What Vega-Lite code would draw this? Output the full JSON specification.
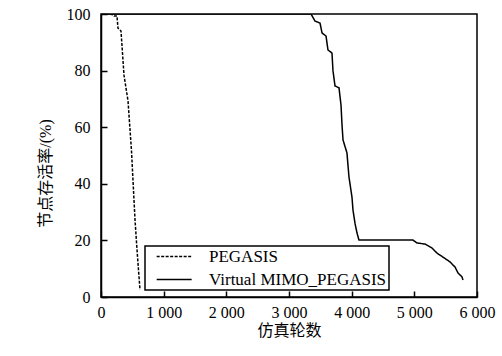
{
  "$schema": "https://vega.github.io/schema/vega-lite/v6.json",
  "width": 376,
  "height": 283,
  "autosize": {"type": "none"},
  "padding": {"left": 101, "top": 14, "right": 25, "bottom": 59},
  "background": "white",
  "data": {
    "values": [
      {"series": "PEGASIS", "i": 0, "x": 0, "y": 100},
      {"series": "PEGASIS", "i": 1, "x": 160, "y": 100},
      {"series": "PEGASIS", "i": 2, "x": 207, "y": 99.3},
      {"series": "PEGASIS", "i": 3, "x": 255, "y": 99.3},
      {"series": "PEGASIS", "i": 4, "x": 271, "y": 95},
      {"series": "PEGASIS", "i": 5, "x": 319, "y": 94},
      {"series": "PEGASIS", "i": 6, "x": 367, "y": 78.4},
      {"series": "PEGASIS", "i": 7, "x": 431, "y": 69.3},
      {"series": "PEGASIS", "i": 8, "x": 487, "y": 51.5},
      {"series": "PEGASIS", "i": 9, "x": 543, "y": 27.2},
      {"series": "PEGASIS", "i": 10, "x": 575, "y": 16.6},
      {"series": "PEGASIS", "i": 11, "x": 622, "y": 2.5},
      {"series": "Virtual MIMO_PEGASIS", "i": 0, "x": 0, "y": 100},
      {"series": "Virtual MIMO_PEGASIS", "i": 1, "x": 3351, "y": 100},
      {"series": "Virtual MIMO_PEGASIS", "i": 2, "x": 3415, "y": 97.5},
      {"series": "Virtual MIMO_PEGASIS", "i": 3, "x": 3495, "y": 96.8},
      {"series": "Virtual MIMO_PEGASIS", "i": 4, "x": 3527, "y": 93.3},
      {"series": "Virtual MIMO_PEGASIS", "i": 5, "x": 3591, "y": 92.2},
      {"series": "Virtual MIMO_PEGASIS", "i": 6, "x": 3622, "y": 87.3},
      {"series": "Virtual MIMO_PEGASIS", "i": 7, "x": 3686, "y": 86.2},
      {"series": "Virtual MIMO_PEGASIS", "i": 8, "x": 3702, "y": 79.9},
      {"series": "Virtual MIMO_PEGASIS", "i": 9, "x": 3734, "y": 74.6},
      {"series": "Virtual MIMO_PEGASIS", "i": 10, "x": 3798, "y": 73.9},
      {"series": "Virtual MIMO_PEGASIS", "i": 11, "x": 3830, "y": 67.8},
      {"series": "Virtual MIMO_PEGASIS", "i": 12, "x": 3846, "y": 60.8},
      {"series": "Virtual MIMO_PEGASIS", "i": 13, "x": 3862, "y": 55.5},
      {"series": "Virtual MIMO_PEGASIS", "i": 14, "x": 3925, "y": 50.9},
      {"series": "Virtual MIMO_PEGASIS", "i": 15, "x": 3957, "y": 42.4},
      {"series": "Virtual MIMO_PEGASIS", "i": 16, "x": 4005, "y": 35.3},
      {"series": "Virtual MIMO_PEGASIS", "i": 17, "x": 4021, "y": 30.7},
      {"series": "Virtual MIMO_PEGASIS", "i": 18, "x": 4053, "y": 26.1},
      {"series": "Virtual MIMO_PEGASIS", "i": 19, "x": 4085, "y": 22.6},
      {"series": "Virtual MIMO_PEGASIS", "i": 20, "x": 4117, "y": 20.1},
      {"series": "Virtual MIMO_PEGASIS", "i": 21, "x": 4979, "y": 20.1},
      {"series": "Virtual MIMO_PEGASIS", "i": 22, "x": 5042, "y": 19.1},
      {"series": "Virtual MIMO_PEGASIS", "i": 23, "x": 5170, "y": 18.7},
      {"series": "Virtual MIMO_PEGASIS", "i": 24, "x": 5282, "y": 17.3},
      {"series": "Virtual MIMO_PEGASIS", "i": 25, "x": 5362, "y": 15.5},
      {"series": "Virtual MIMO_PEGASIS", "i": 26, "x": 5457, "y": 14.1},
      {"series": "Virtual MIMO_PEGASIS", "i": 27, "x": 5569, "y": 12.4},
      {"series": "Virtual MIMO_PEGASIS", "i": 28, "x": 5649, "y": 10.6},
      {"series": "Virtual MIMO_PEGASIS", "i": 29, "x": 5697, "y": 8.5},
      {"series": "Virtual MIMO_PEGASIS", "i": 30, "x": 5761, "y": 7.1},
      {"series": "Virtual MIMO_PEGASIS", "i": 31, "x": 5776, "y": 6.0}
    ]
  },
  "mark": {"type": "line", "color": "black", "strokeWidth": 1.5, "clip": true},
  "encoding": {
    "x": {
      "field": "x",
      "type": "quantitative",
      "scale": {"domain": [0, 6000], "nice": false, "zero": false},
      "axis": {
        "values": [0, 1000, 2000, 3000, 4000, 5000, 6000],
        "labelExpr": "replace(format(datum.value, ','), ',', ' ')",
        "title": "仿真轮数",
        "titleY": 38,
        "titleBaseline": "alphabetic",
        "labelPadding": 13,
        "labelDx": 3
      }
    },
    "y": {
      "field": "y",
      "type": "quantitative",
      "scale": {"domain": [0, 100], "nice": false},
      "axis": {
        "values": [0, 20, 40, 60, 80, 100],
        "title": "节点存活率/(%)",
        "titleX": -56,
        "titleY": 159,
        "titleBaseline": "middle",
        "titleAlign": "center",
        "labelPadding": 17
      }
    },
    "strokeDash": {
      "field": "series",
      "type": "nominal",
      "scale": {"domain": ["PEGASIS", "Virtual MIMO_PEGASIS"], "range": [[3, 1.5], [1, 0]]},
      "legend": {
        "title": null,
        "orient": "none",
        "legendX": 44,
        "legendY": 232,
        "labelExpr": "datum.label + '\u00a0\u00a0\u00a0'"
      }
    },
    "order": {"field": "i", "type": "quantitative"}
  },
  "config": {
    "view": {"stroke": "black", "strokeWidth": 1.5},
    "axis": {
      "grid": false,
      "domainColor": "black",
      "domainWidth": 1.5,
      "tickColor": "black",
      "tickWidth": 1.5,
      "tickSize": -6,
      "labelFont": "Liberation Serif",
      "labelFontSize": 16,
      "labelColor": "black",
      "labelFlush": false,
      "labelOverlap": false,
      "titleFont": "Liberation Serif, Noto Sans CJK SC",
      "titleFontSize": 16,
      "titleFontWeight": "normal",
      "titleColor": "black"
    },
    "legend": {
      "fillColor": "white",
      "strokeColor": "black",
      "strokeWidth": 1.5,
      "padding": 2,
      "rowPadding": 5,
      "symbolType": "M-1,0H5",
      "symbolSize": 136,
      "symbolStrokeWidth": 1.5,
      "symbolStrokeColor": "black",
      "symbolFillColor": "transparent",
      "symbolOffset": 7,
      "labelOffset": 38,
      "labelFont": "Liberation Serif",
      "labelFontSize": 17,
      "labelColor": "black",
      "labelLimit": 400
    }
  }
}
